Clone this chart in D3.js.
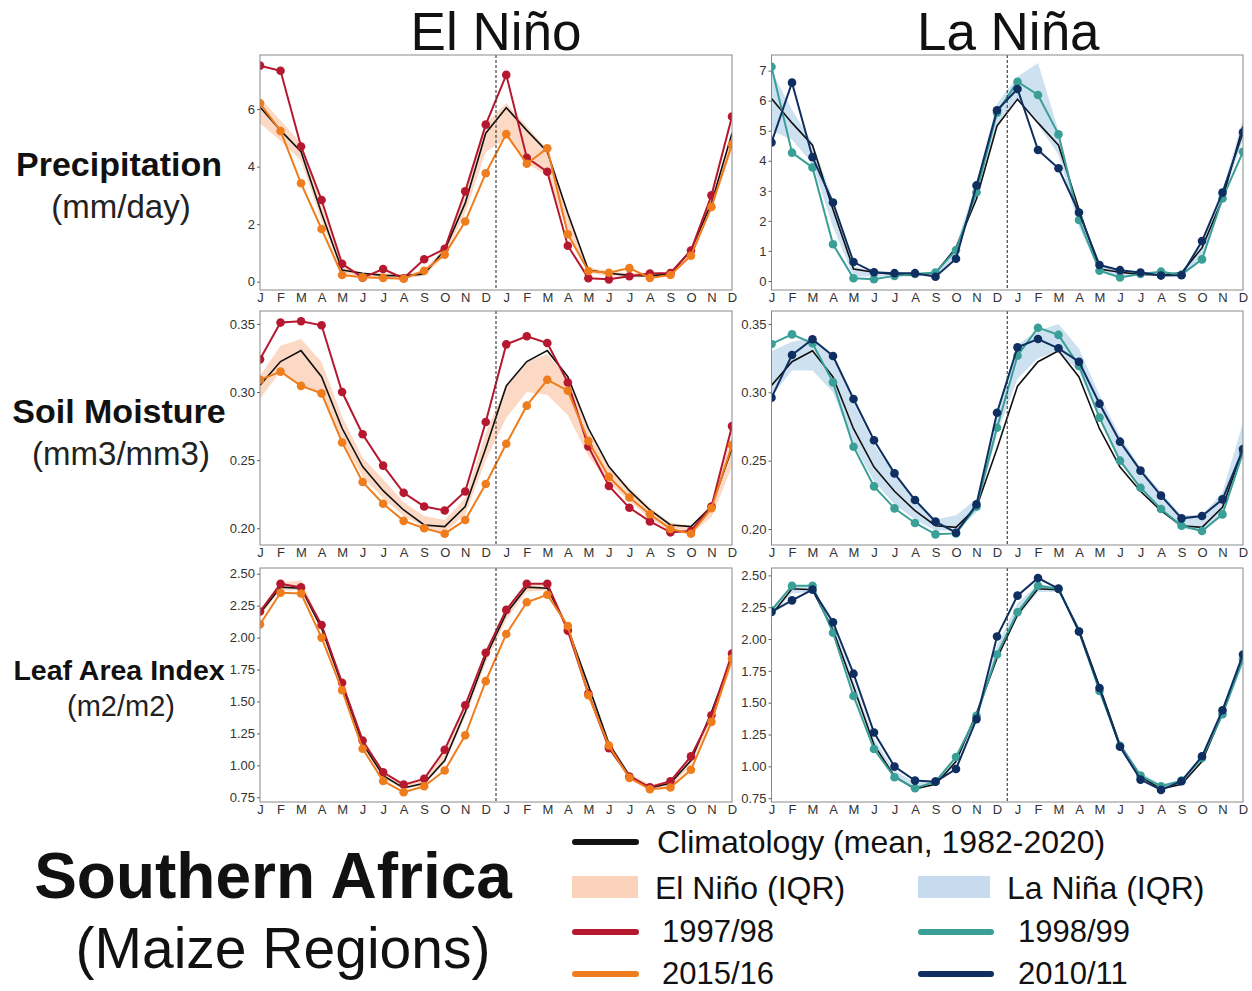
<!DOCTYPE html>
<html><head><meta charset="utf-8">
<script src="https://cdn.jsdelivr.net/npm/d3@7"></script>
<style>body{margin:0;background:#fff;} svg{display:block;font-family:"Liberation Sans",Arial,sans-serif;}</style>
</head><body>
<svg id="chart" width="1252" height="991"></svg>
<script>
// ---------- DATA ----------
const months = ["J","F","M","A","M","J","J","A","S","O","N","D"];
const monthIdx = d3.range(24);

// Precipitation (mm/day), 24 months (ENSO year 0 and year 1)
const precipClim   = [6.07,5.26,4.52,2.38,0.40,0.29,0.22,0.20,0.27,1.10,2.73,5.16, 6.05,5.26,4.52,2.38,0.40,0.29,0.22,0.20,0.27,1.10,2.73,5.16];
const precipElNinoLo = [5.5,4.9,4.2,2.1,0.30,0.15,0.15,0.12,0.20,0.90,2.4,4.5, 5.0,4.1,3.7,1.7,0.30,0.20,0.15,0.15,0.20,0.90,2.5,4.6];
const precipElNinoHi = [6.4,5.6,4.8,2.7,0.55,0.30,0.30,0.25,0.40,1.20,3.0,5.5, 6.2,5.4,4.6,2.4,0.50,0.35,0.30,0.28,0.35,1.15,2.9,5.2];
const precip9798 = [7.51,7.33,4.70,2.84,0.62,0.14,0.44,0.12,0.78,1.14,3.14,5.46, 7.19,4.31,3.82,1.25,0.12,0.08,0.19,0.28,0.30,1.08,3.00,5.74];
const precip1516 = [6.20,5.24,3.42,1.83,0.23,0.15,0.13,0.10,0.38,0.94,2.09,3.77, 5.13,4.10,4.64,1.65,0.37,0.31,0.47,0.13,0.23,0.90,2.60,4.78];
const precipLaNinaLo = [5.0,4.7,3.9,1.8,0.15,0.15,0.15,0.15,0.17,0.80,2.8,5.2, 6.1,5.2,4.2,1.8,0.30,0.15,0.20,0.17,0.17,0.80,2.7,4.7];
const precipLaNinaHi = [7.0,5.7,4.6,2.7,0.50,0.30,0.30,0.27,0.30,1.20,3.3,5.9, 6.8,7.25,5.0,2.3,0.50,0.35,0.30,0.30,0.28,1.30,3.0,5.4];
const precip9899 = [7.13,4.27,3.78,1.22,0.09,0.06,0.17,0.23,0.28,1.03,2.95,5.60, 6.63,6.19,4.88,2.03,0.34,0.12,0.23,0.31,0.21,0.72,2.75,4.30];
const precip1011 = [4.61,6.60,4.12,2.61,0.63,0.29,0.26,0.26,0.14,0.74,3.18,5.68, 6.39,4.36,3.75,2.28,0.53,0.36,0.28,0.18,0.19,1.33,2.94,4.95];

// Soil moisture (mm3/mm3)
const smClim = [0.305,0.3224,0.3304,0.3113,0.2734,0.2453,0.2276,0.2134,0.2024,0.2012,0.2159,0.2587, 0.3045,0.3224,0.3304,0.3113,0.2734,0.2453,0.2276,0.2134,0.2024,0.2012,0.2159,0.2587];
const smElNinoLo = [0.295,0.315,0.305,0.298,0.264,0.238,0.222,0.209,0.201,0.197,0.210,0.250, 0.281,0.300,0.298,0.283,0.253,0.233,0.220,0.207,0.198,0.196,0.208,0.245];
const smElNinoHi = [0.312,0.334,0.339,0.322,0.282,0.252,0.236,0.219,0.209,0.206,0.222,0.270, 0.305,0.322,0.328,0.310,0.272,0.245,0.230,0.215,0.204,0.202,0.218,0.268];
const sm9798 = [0.324,0.351,0.352,0.349,0.300,0.269,0.246,0.226,0.216,0.213,0.227,0.278, 0.335,0.341,0.336,0.307,0.260,0.231,0.215,0.205,0.197,0.198,0.216,0.275];
const sm1516 = [0.309,0.315,0.3045,0.299,0.263,0.234,0.218,0.2054,0.200,0.196,0.206,0.2325, 0.262,0.290,0.309,0.301,0.264,0.2377,0.2226,0.2103,0.1995,0.196,0.2147,0.261];
const smLaNinaLo = [0.297,0.316,0.316,0.300,0.262,0.235,0.218,0.207,0.199,0.199,0.212,0.270, 0.310,0.325,0.330,0.315,0.280,0.250,0.230,0.213,0.200,0.199,0.210,0.255];
const smLaNinaHi = [0.330,0.337,0.340,0.325,0.293,0.262,0.240,0.222,0.207,0.210,0.222,0.285, 0.335,0.345,0.350,0.332,0.298,0.268,0.245,0.227,0.210,0.210,0.227,0.278];
const sm9899 = [0.3354,0.3424,0.3359,0.3073,0.2602,0.2312,0.2151,0.2044,0.1961,0.1968,0.2163,0.2741, 0.3268,0.3473,0.3420,0.3193,0.2815,0.2500,0.2302,0.2146,0.2024,0.1985,0.2107,0.2560];
const sm1011 = [0.2961,0.3273,0.3388,0.3266,0.2951,0.2649,0.2407,0.2212,0.2054,0.1973,0.2180,0.2851, 0.3329,0.3390,0.3322,0.3224,0.2917,0.2639,0.2427,0.2244,0.2078,0.2095,0.2217,0.2585];

// Leaf area index (m2/m2)
const laiClim = [2.19,2.395,2.387,2.073,1.628,1.17,0.92,0.823,0.86,1.038,1.418,1.85, 2.19,2.395,2.387,2.073,1.628,1.17,0.92,0.823,0.86,1.038,1.418,1.85];
const laiElNinoLo = [2.17,2.37,2.37,2.05,1.60,1.15,0.90,0.81,0.85,1.02,1.38,1.80, 2.14,2.36,2.37,2.04,1.55,1.13,0.89,0.81,0.83,1.00,1.36,1.78];
const laiElNinoHi = [2.22,2.43,2.45,2.10,1.65,1.20,0.95,0.85,0.88,1.10,1.45,1.88, 2.22,2.41,2.42,2.10,1.62,1.19,0.94,0.85,0.88,1.07,1.42,1.86];
const lai9798 = [2.204,2.421,2.393,2.099,1.646,1.195,0.946,0.849,0.894,1.122,1.47,1.882, 2.217,2.421,2.421,2.055,1.562,1.135,0.912,0.829,0.876,1.07,1.392,1.876];
const lai1516 = [2.104,2.351,2.345,2.0,1.588,1.13,0.878,0.789,0.836,0.96,1.235,1.659, 2.028,2.277,2.335,2.091,1.549,1.156,0.902,0.813,0.826,0.965,1.34,1.837];
const laiLaNinaLo = [2.18,2.36,2.37,2.05,1.58,1.15,0.91,0.82,0.85,1.02,1.37,1.84, 2.17,2.37,2.37,2.05,1.58,1.14,0.90,0.82,0.85,1.04,1.39,1.80];
const laiLaNinaHi = [2.24,2.42,2.42,2.12,1.68,1.22,0.97,0.87,0.89,1.08,1.42,1.95, 2.28,2.43,2.41,2.09,1.64,1.19,0.95,0.86,0.89,1.08,1.43,1.87];
const lai9899 = [2.226,2.419,2.419,2.049,1.553,1.136,0.914,0.828,0.88,1.073,1.397,1.879, 2.21,2.419,2.393,2.059,1.592,1.162,0.927,0.844,0.888,1.065,1.41,1.84];
const lai1011 = [2.213,2.304,2.388,2.132,1.728,1.266,0.998,0.888,0.88,0.979,1.371,2.02, 2.341,2.479,2.396,2.059,1.616,1.154,0.896,0.815,0.883,1.079,1.441,1.879];

const precipTicksL = [0,2,4,6], precipTicksR = [0,1,2,3,4,5,6,7];
const smTicks = [0.20,0.25,0.30,0.35];
const laiTicks = [0.75,1.00,1.25,1.50,1.75,2.00,2.25,2.50];

const colTitles = ["El Niño","La Niña"];
const rowTitles = [["Precipitation","(mm/day)"],["Soil Moisture","(mm3/mm3)"],["Leaf Area Index","(m2/m2)"]];
const legendYears = ["1997/98","2015/16","1998/99","2010/11"];

// ---------- STYLE / LAYOUT ----------
const C = {red:"#b5182f", orange:"#ef7d1d", teal:"#3a9f96", navy:"#0f2f60", elFill:"#fbd2bb", laFill:"#c6dcee"};
const cols = [{x0:260,x1:732},{x0:771.5,x1:1243}];
const rows = [{y0:55,y1:290},{y0:311,y1:545},{y0:568,y1:802}];

const panels = [
 {r:0,c:0,dom:[-0.29,7.88],ticks:precipTicksL,fmt:d3.format("d"),clim:precipClim,lo:precipElNinoLo,hi:precipElNinoHi,fill:C.elFill,s:[[precip9798,C.red],[precip1516,C.orange]]},
 {r:0,c:1,dom:[-0.30,7.52],ticks:precipTicksR,fmt:d3.format("d"),clim:precipClim,lo:precipLaNinaLo,hi:precipLaNinaHi,fill:C.laFill,s:[[precip9899,C.teal],[precip1011,C.navy]]},
 {r:1,c:0,dom:[0.1877,0.3595],ticks:smTicks,fmt:d3.format(".2f"),clim:smClim,lo:smElNinoLo,hi:smElNinoHi,fill:C.elFill,s:[[sm9798,C.red],[sm1516,C.orange]]},
 {r:1,c:1,dom:[0.1883,0.3595],ticks:smTicks,fmt:d3.format(".2f"),clim:smClim,lo:smLaNinaLo,hi:smLaNinaHi,fill:C.laFill,s:[[sm9899,C.teal],[sm1011,C.navy]]},
 {r:2,c:0,dom:[0.713,2.545],ticks:laiTicks,fmt:d3.format(".2f"),clim:laiClim,lo:laiElNinoLo,hi:laiElNinoHi,fill:C.elFill,s:[[lai9798,C.red],[lai1516,C.orange]]},
 {r:2,c:1,dom:[0.72,2.558],ticks:laiTicks,fmt:d3.format(".2f"),clim:laiClim,lo:laiLaNinaLo,hi:laiLaNinaHi,fill:C.laFill,s:[[lai9899,C.teal],[lai1011,C.navy]]}
];

const svg = d3.select("#chart");

panels.forEach(p=>{
  const col = cols[p.c], row = rows[p.r];
  const x = d3.scaleLinear().domain([0,23]).range([col.x0,col.x1]);
  const y = d3.scaleLinear().domain(p.dom).range([row.y1,row.y0]);
  const g = svg.append("g");
  const clipId = "clip"+p.r+p.c;
  g.append("clipPath").attr("id",clipId).append("rect")
    .attr("x",col.x0).attr("y",row.y0).attr("width",col.x1-col.x0).attr("height",row.y1-row.y0);
  const plot = g.append("g").attr("clip-path",`url(#${clipId})`);

  plot.append("path").datum(monthIdx)
    .attr("d", d3.area().x(i=>x(i)).y0(i=>y(p.lo[i])).y1(i=>y(p.hi[i])))
    .attr("fill",p.fill).attr("opacity",0.85);
  plot.append("path").datum(monthIdx)
    .attr("d", d3.line().x(i=>x(i)).y(i=>y(p.clim[i])))
    .attr("fill","none").attr("stroke","#111").attr("stroke-width",1.6);
  p.s.forEach(([arr,color])=>{
    plot.append("path").datum(monthIdx)
      .attr("d", d3.line().x(i=>x(i)).y(i=>y(arr[i])))
      .attr("fill","none").attr("stroke",color).attr("stroke-width",2);
    plot.selectAll(null).data(monthIdx).enter().append("circle")
      .attr("cx",i=>x(i)).attr("cy",i=>y(arr[i])).attr("r",4.3).attr("fill",color);
  });

  // dashed separator between Dec and Jan
  g.append("line").attr("x1",x(11.5)).attr("x2",x(11.5)).attr("y1",row.y0).attr("y2",row.y1)
    .attr("stroke","#333").attr("stroke-width",1.1).attr("stroke-dasharray","3,2");

  // frame
  g.append("rect").attr("x",col.x0).attr("y",row.y0).attr("width",col.x1-col.x0).attr("height",row.y1-row.y0)
    .attr("fill","none").attr("stroke","#8a8a8a").attr("stroke-width",1);

  // y axis
  const ya = d3.axisLeft(y).tickValues(p.ticks).tickFormat(p.fmt).tickSize(3).tickPadding(2);
  const yg = g.append("g").attr("transform",`translate(${col.x0},0)`).call(ya);
  yg.select(".domain").remove();
  yg.selectAll("line").attr("stroke","#666");
  yg.selectAll("text").attr("font-size",13).attr("fill","#333").attr("font-family","Liberation Sans, Arial, sans-serif");

  // x axis month labels
  const xa = d3.axisBottom(x).tickValues(monthIdx).tickFormat(i=>months[i%12]).tickSize(0).tickPadding(3);
  const xg = g.append("g").attr("transform",`translate(0,${row.y1})`).call(xa);
  xg.select(".domain").remove();
  xg.selectAll("text").attr("font-size",13).attr("fill","#333").attr("font-family","Liberation Sans, Arial, sans-serif");
});

// column titles
colTitles.forEach((t,i)=>{
  svg.append("text").attr("x",(cols[i].x0+cols[i].x1)/2 - (i===0?0:-1)).attr("y",50)
    .attr("text-anchor","middle").attr("font-size",53).attr("fill","#111").text(t);
});

// row titles
const rowPos = [[176,218,34,33],[423,465,34,33],[680,716,28.5,29]];
rowTitles.forEach((t,i)=>{
  svg.append("text").attr("x",119).attr("y",rowPos[i][0]).attr("text-anchor","middle")
    .attr("font-size",rowPos[i][2]).attr("font-weight","bold").attr("fill","#111").text(t[0]);
  svg.append("text").attr("x",121).attr("y",rowPos[i][1]).attr("text-anchor","middle")
    .attr("font-size",rowPos[i][3]).attr("fill","#222").text(t[1]);
});

// big region title
svg.append("text").attr("x",273).attr("y",898).attr("text-anchor","middle")
  .attr("font-size",64).attr("font-weight","bold").attr("fill","#111").text("Southern Africa");
svg.append("text").attr("x",283).attr("y",968).attr("text-anchor","middle")
  .attr("font-size",57).attr("fill","#111").text("(Maize Regions)");

// legend
const lg = svg.append("g");
lg.append("line").attr("x1",575).attr("x2",636).attr("y1",842).attr("y2",842)
  .attr("stroke","#111").attr("stroke-width",6).attr("stroke-linecap","round");
lg.append("text").attr("x",657).attr("y",853).attr("font-size",32).attr("fill","#111").text("Climatology (mean, 1982-2020)");
lg.append("rect").attr("x",572).attr("y",876).attr("width",66).attr("height",22).attr("fill",C.elFill);
lg.append("text").attr("x",655).attr("y",899).attr("font-size",32).attr("fill","#111").text("El Niño (IQR)");
lg.append("rect").attr("x",918).attr("y",876).attr("width",72).attr("height",22).attr("fill",C.laFill);
lg.append("text").attr("x",1007).attr("y",899).attr("font-size",32).attr("fill","#111").text("La Niña (IQR)");
const legItems = [[575,636,932,C.red,662,legendYears[0]],[575,636,974,C.orange,662,legendYears[1]],
                  [921,991,932,C.teal,1018,legendYears[2]],[921,991,974,C.navy,1018,legendYears[3]]];
legItems.forEach(([a,b,yy,col,tx,label])=>{
  lg.append("line").attr("x1",a).attr("x2",b).attr("y1",yy).attr("y2",yy)
    .attr("stroke",col).attr("stroke-width",6).attr("stroke-linecap","round");
  lg.append("text").attr("x",tx).attr("y",yy+9.5).attr("font-size",31).attr("fill","#111").text(label);
});
</script>
</body></html>
